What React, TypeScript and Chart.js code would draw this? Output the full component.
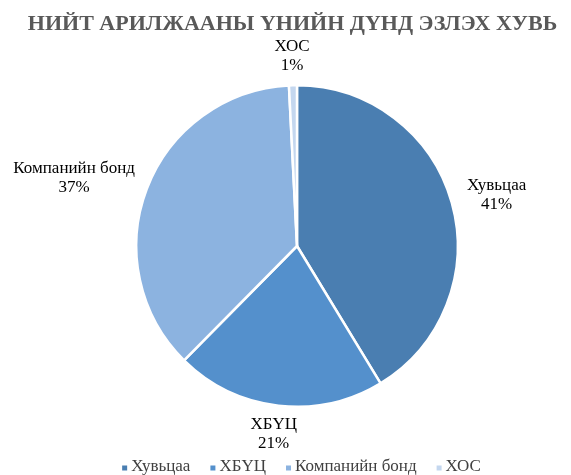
import React, { useEffect, useRef } from "react";
import { Chart, registerables } from "chart.js";

Chart.register(...registerables);

const TITLE = "НИЙТ АРИЛЖААНЫ ҮНИЙН ДҮНД ЭЗЛЭХ ХУВЬ";
const categories = ["Хувьцаа", "ХБҮЦ", "Компанийн бонд", "ХОС"];
const values = [41.3, 21.1, 36.8, 0.8];
const percentLabels = ["41%", "21%", "37%", "1%"];
const colors = ["#4a7eb1", "#5490cc", "#8cb3e0", "#c4d7ef"];

const FONT = "'Liberation Serif', 'Times New Roman', serif";

const decorPlugin = {
  id: "decor",
  afterDraw(chart: any) {
    const ctx = chart.ctx as CanvasRenderingContext2D;
    const W = chart.width;
    ctx.save();
    // Title
    ctx.font = `bold 22px ${FONT}`;
    ctx.fillStyle = "#595959";
    ctx.textAlign = "center";
    ctx.textBaseline = "alphabetic";
    ctx.fillText(TITLE, W / 2 + 7, 30);

    // Data labels
    const meta = chart.getDatasetMeta(0);
    ctx.font = `17px ${FONT}`;
    ctx.fillStyle = "#000000";
    const lineH = 19;
    meta.data.forEach((arc: any, i: number) => {
      const { x, y, startAngle, endAngle, outerRadius } = arc.getProps(
        ["x", "y", "startAngle", "endAngle", "outerRadius"],
        true
      );
      const mid = (startAngle + endAngle) / 2;
      const cx = Math.cos(mid);
      const cy = Math.sin(mid);
      const R = outerRadius + 10;
      const px = x + cx * (R + 7);
      const py = y + cy * R;
      const lines = [categories[i], percentLabels[i]];
      const w = Math.max(...lines.map((l) => ctx.measureText(l).width));
      const h = lines.length * lineH;
      const centerX = px + cx * (w / 2);
      const centerY = py + cy * (h / 2);
      ctx.textAlign = "center";
      ctx.textBaseline = "middle";
      lines.forEach((l, k) => {
        ctx.fillText(l, centerX, centerY - h / 2 + lineH / 2 + k * lineH);
      });
    });

    // Legend
    ctx.font = `17px ${FONT}`;
    const box = 5;
    const boxGap = 4;
    const itemGap = 20;
    const widths = categories.map((c) => box + boxGap + ctx.measureText(c).width);
    const total = widths.reduce((a, b) => a + b, 0) + itemGap * (categories.length - 1);
    let lx = W / 2 + 16 - total / 2;
    const ly = 467;
    ctx.textAlign = "left";
    ctx.textBaseline = "middle";
    categories.forEach((c, i) => {
      ctx.fillStyle = colors[i];
      ctx.fillRect(lx, ly - box / 2 + 1, box, box);
      ctx.fillStyle = "#404040";
      ctx.fillText(c, lx + box + boxGap, ly);
      lx += widths[i] + itemGap;
    });
    ctx.restore();
  },
};

export default function App() {
  const ref = useRef<HTMLCanvasElement | null>(null);
  useEffect(() => {
    document.body.style.margin = "0";
    const canvas = ref.current;
    if (!canvas) return;
    const chart = new Chart(canvas, {
      type: "pie",
      data: {
        labels: categories,
        datasets: [
          {
            data: values,
            backgroundColor: colors,
            borderColor: "#ffffff",
            borderWidth: 2.5,
          },
        ],
      },
      options: {
        responsive: false,
        animation: false,
        layout: { padding: { top: 84, bottom: 67, left: 23, right: 0 } },
        plugins: {
          legend: { display: false },
          title: { display: false },
          tooltip: { enabled: false },
        },
      },
      plugins: [decorPlugin],
    });
    return () => chart.destroy();
  }, []);
  return (
    <div style={{ width: 571, height: 475, background: "#ffffff" }}>
      <canvas ref={ref} width={571} height={475} style={{ display: "block" }} />
    </div>
  );
}
